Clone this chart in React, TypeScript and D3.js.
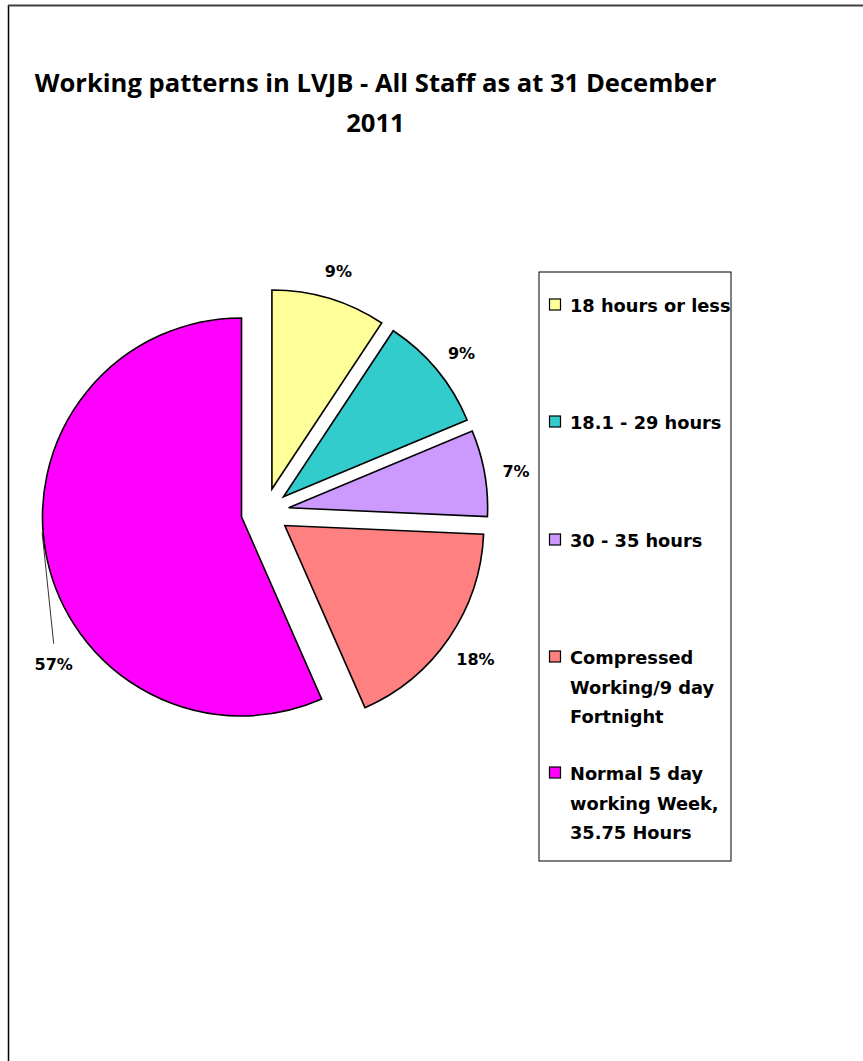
import React from "react";
import * as d3 from "d3";

const TITLE_LINES = ["Working patterns in LVJB - All Staff as at 31 December", "2011"];
const CATEGORIES = [
  "18 hours or less",
  "18.1 - 29 hours",
  "30 - 35 hours",
  "Compressed Working/9 day Fortnight",
  "Normal 5 day working Week, 35.75 Hours",
];
const LEGEND_LINES = [
  ["18 hours or less"],
  ["18.1 - 29 hours"],
  ["30 - 35 hours"],
  ["Compressed", "Working/9 day", "Fortnight"],
  ["Normal 5 day", "working Week,", "35.75 Hours"],
];
const VALUES = [9.3, 9.4, 7.0, 17.7, 56.6];
const COLORS = ["#FFFF99", "#33CCCC", "#CC99FF", "#FF8080", "#FF00FF"];

const W = 863;
const H = 1061;
const CX = 265;
const CY = 512;
const R = 199;
const EXPLODE = 24;
const LABEL_R = 231;
const FONT = "'DejaVu Sans', Verdana, sans-serif";

export default function App() {
  const total = d3.sum(VALUES);
  const pie = d3.pie<number>().sort(null).value((d) => d).startAngle(0).endAngle(2 * Math.PI);
  const arcs = pie(VALUES);
  const arcGen = d3.arc<d3.PieArcDatum<number>>().innerRadius(0).outerRadius(R);
  const fmt = (v: number) => `${Math.round((v / total) * 100)}%`;

  const legendBase = [312, 429, 547, 664, 780];
  const lineH = 29.5;

  return (
    <svg width={W} height={H} style={{ position: "absolute", left: 0, top: 0, background: "#fff" }}>
      <line x1={8.5} y1={5} x2={8.5} y2={H} stroke="#000" strokeWidth={1.5} />
      <line x1={8} y1={5.5} x2={W} y2={5.5} stroke="#404040" strokeWidth={2} />
      {TITLE_LINES.map((t, i) => (
        <text
          key={i}
          x={375.5}
          y={92 + i * 40}
          textAnchor="middle"
          fontFamily="'Open Sans', Lato, sans-serif"
          fontWeight="bold"
          fontSize={25.6}
          fill="#000"
        >
          {t}
        </text>
      ))}
      <g>
        {arcs.map((a, i) => {
          const mid = (a.startAngle + a.endAngle) / 2;
          const ox = CX + Math.sin(mid) * EXPLODE;
          const oy = CY - Math.cos(mid) * EXPLODE;
          const isBig = i === arcs.length - 1;
          const labelAngle = isBig ? (231.8 * Math.PI) / 180 : mid;
          const labelR = isBig ? 239 : LABEL_R;
          const lx = ox + Math.sin(labelAngle) * labelR;
          const ly = oy - Math.cos(labelAngle) * labelR + (isBig ? 0 : 4);
          return (
            <g key={i}>
              <path
                d={arcGen(a) || ""}
                transform={`translate(${ox},${oy})`}
                fill={COLORS[i]}
                stroke="#000"
                strokeWidth={1.6}
                strokeLinejoin="miter"
              />
              {isBig && (
                <line
                  x1={ox + Math.sin(mid + 0.13) * (R + 1)}
                  y1={oy - Math.cos(mid + 0.13) * (R + 1)}
                  x2={lx}
                  y2={ly - 21}
                  stroke="#000"
                  strokeWidth={0.8}
                />
              )}
              <text
                x={lx}
                y={ly}
                textAnchor="middle"
                dominantBaseline="central"
                fontFamily={FONT}
                fontWeight="bold"
                fontSize={16}
                fill="#000"
              >
                {fmt(VALUES[i])}
              </text>
            </g>
          );
        })}
      </g>
      <g>
        <rect x={539} y={272} width={192} height={589} fill="#fff" stroke="#000" strokeWidth={1} />
        {CATEGORIES.map((c, i) => (
          <g key={c}>
            <rect
              x={549.5}
              y={legendBase[i] - 13}
              width={11}
              height={11}
              fill={COLORS[i]}
              stroke="#000"
              strokeWidth={1.2}
            />
            {LEGEND_LINES[i].map((ln, j) => (
              <text
                key={j}
                x={570}
                y={legendBase[i] + j * lineH}
                fontFamily={FONT}
                fontWeight="bold"
                fontSize={17.8}
                fill="#000"
              >
                {ln}
              </text>
            ))}
          </g>
        ))}
      </g>
    </svg>
  );
}
